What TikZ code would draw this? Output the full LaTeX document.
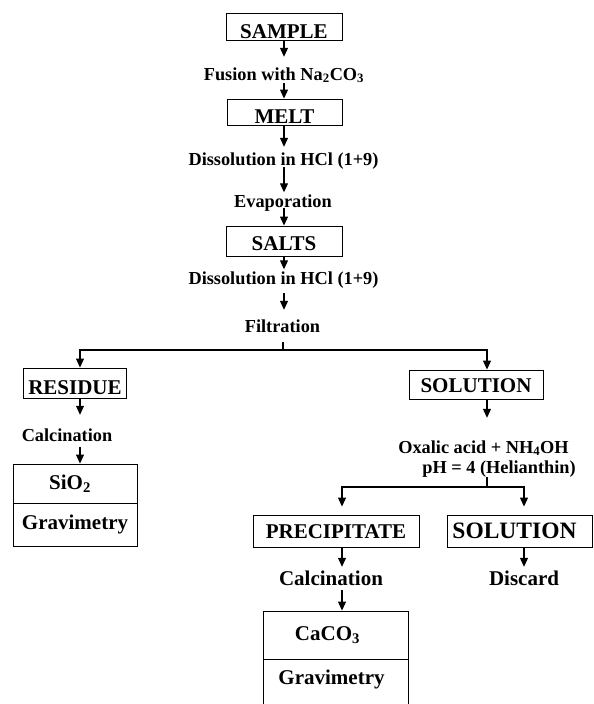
\documentclass[tikz,border=0pt]{standalone}
\usepackage{fontspec}
\setmainfont{Liberation Serif}
\usetikzlibrary{arrows.meta}
\begin{document}
\begin{tikzpicture}[x=1pt,y=-1pt,
  box/.style={draw, line width=0.9pt, inner sep=0pt, text depth=0pt, font=\fontsize{21}{24}\selectfont\bfseries},
  lbl/.style={anchor=base, inner xsep=0pt, inner ysep=2pt, text height=12.5pt, text depth=4pt, font=\fontsize{18.3}{22}\selectfont\bfseries},
  lblb/.style={anchor=base, inner xsep=0pt, inner ysep=2pt, text height=14.5pt, text depth=5pt, font=\fontsize{21}{24}\selectfont\bfseries},
  cell/.style={draw, line width=0.9pt, inner sep=0pt, font=\fontsize{21}{24}\selectfont\bfseries},
  arr/.style={line width=1.1pt, -{Triangle[length=9pt,width=8pt]}},
  ln/.style={line width=1.1pt}]
\useasboundingbox (0,0) rectangle (594,704);
\fill[white] (0,0) rectangle (594,704);
% central column
\node[box, minimum width=116pt, minimum height=27pt, text height=23pt] (sample) at (284,26.5) {SAMPLE};
\node[lbl] (fusion) at (284,80) {Fusion with Na\textsubscript{2}CO\textsubscript{3}};
\node[box, minimum width=115pt, minimum height=26pt, text height=22pt] (melt) at (284.5,112) {MELT};
\node[lbl] (diss1) at (283.5,165) {Dissolution in HCl (1+9)};
\node[lbl] (evap) at (283,207) {Evaporation};
\node[box, minimum width=116pt, minimum height=30pt, text height=19pt] (salts) at (284,241) {SALTS};
\node[lbl] (diss2) at (283.5,284) {Dissolution in HCl (1+9)};
\node[lbl] (filt) at (282.5,332) {Filtration};
\coordinate (split1) at (283,350);
% left branch
\node[box, minimum width=103pt, minimum height=30pt, text height=22pt] (residue) at (75,383) {RESIDUE};
\node[lbl] (calc1) at (67,441) {Calcination};
\node[cell, minimum width=124pt, minimum height=39pt] (sio2) at (75,483.5) {SiO\textsubscript{2}\hspace*{10pt}};
\node[cell, minimum width=124pt, minimum height=43pt] (grav1) at (75,524.5) {Gravimetry};
% right branch
\node[box, minimum width=134pt, minimum height=29pt, text height=15pt] (sol1) at (476,384.5) {SOLUTION};
\node[lbl] (oxa) at (483.5,453) {Oxalic acid + NH\textsubscript{4}OH};
\node[lbl] (ph) at (499,473) {pH = 4 (Helianthin)};
\coordinate (split2) at (487,487);
\node[box, minimum width=166pt, minimum height=32pt, text height=14pt] (prec) at (336,531) {PRECIPITATE};
\node[box, minimum width=145pt, minimum height=32pt, text height=14pt, font=\fontsize{23.5}{28}\selectfont\bfseries] (sol2) at (519.5,531) {\hspace*{-10pt}SOLUTION\hspace*{0pt}};
\node[lblb] (calc2) at (331,585) {Calcination};
\node[lblb] (discard) at (524,585) {Discard};
\node[cell, minimum width=145pt, minimum height=48pt] (caco3) at (335.5,635) {CaCO\textsubscript{3}\hspace*{16pt}};
\node[cell, minimum width=145pt, minimum height=53pt, text height=13pt, text depth=16pt] (grav2) at (335.5,685.5) {Gravimetry\hspace*{8pt}};
% connectors
\draw[arr, shorten >=8.5pt] (sample.south) -- (sample.south |- fusion.north);
\draw[arr, shorten <=-3pt] (sample.south |- fusion.south) -- (sample.south |- melt.north);
\draw[arr, shorten >=3.5pt] (sample.south |- melt.south) -- (sample.south |- diss1.north);
\draw[arr, shorten <=-4pt] (sample.south |- diss1.south) -- (sample.south |- evap.north);
\draw[arr, shorten <=-5pt] (sample.south |- evap.south) -- (sample.south |- salts.north);
\draw[arr] (sample.south |- salts.south) -- (sample.south |- diss2.north);
\draw[arr, shorten <=3pt, shorten >=7.5pt] (sample.south |- diss2.south) -- (sample.south |- filt.north);
\draw[ln, shorten <=4pt] (filt.south -| split1) -- (split1);
\draw[arr] (split1) -| ([xshift=5pt]residue.north);
\draw[arr] (split1) -| ([xshift=11pt]sol1.north);
\draw[arr, shorten >=11.5pt] ([xshift=5pt]residue.south) -- ([xshift=5pt]residue.south |- calc1.north);
\draw[arr] ([xshift=5pt]residue.south |- calc1.south) -- ([xshift=5pt]sio2.north);
\draw[arr, shorten >=20.5pt] ([xshift=11pt]sol1.south) -- ([xshift=11pt]sol1.south |- oxa.north);
\draw[ln, shorten <=-2pt] (split2 |- ph.south) -- (split2);
\draw[arr, shorten >=8pt] (split2) -| ([xshift=6pt]prec.north);
\draw[arr, shorten >=8pt] (split2) -| ([xshift=4.5pt]sol2.north);
\draw[arr, shorten >=1.5pt] ([xshift=6pt]prec.south) -- ([xshift=6pt]prec.south |- calc2.north);
\draw[arr, shorten <=-2pt] ([xshift=6.5pt]caco3.north |- calc2.south) -- ([xshift=6.5pt]caco3.north);
\draw[arr, shorten >=1.5pt] ([xshift=4.5pt]sol2.south) -- ([xshift=4.5pt]sol2.south |- discard.north);
\end{tikzpicture}
\end{document}
